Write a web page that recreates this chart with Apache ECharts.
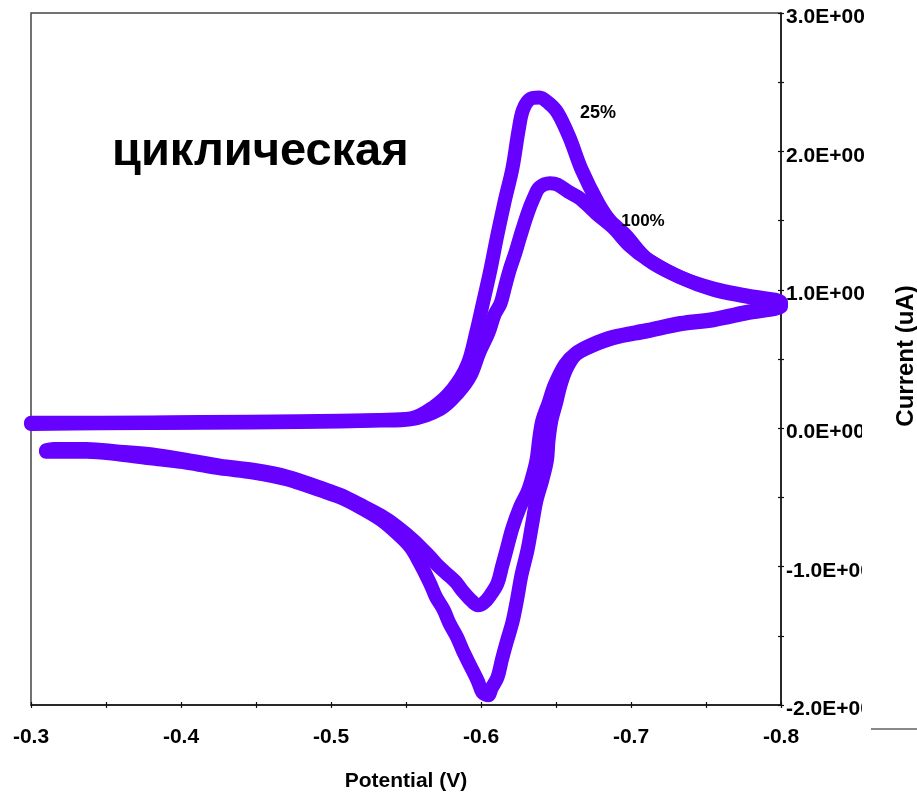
<!DOCTYPE html>
<html>
<head>
<meta charset="utf-8">
<style>
  html, body { margin: 0; padding: 0; background: #fff; }
  #chart { width: 917px; height: 792px; }
</style>
<script src="https://cdn.jsdelivr.net/npm/echarts@6/dist/echarts.min.js"></script>
</head>
<body>
<div id="chart"></div>
<script>
// Cyclic voltammograms: forward (cathodic-going) and reverse scans, potential in V, current in uA
const fwd25V = [-0.300,-0.346,-0.413,-0.479,-0.533,-0.553,-0.568,-0.581,-0.591,-0.597,-0.601,-0.606,-0.611,-0.616,-0.621,-0.625,-0.628,-0.633,-0.639,-0.645,-0.651,-0.659,-0.667,-0.678,-0.686,-0.696,-0.711,-0.733,-0.755,-0.777,-0.800];
const fwd25I = [0.04,0.04,0.045,0.05,0.06,0.07,0.15,0.28,0.46,0.70,0.89,1.13,1.40,1.65,1.88,2.15,2.30,2.38,2.39,2.35,2.28,2.10,1.87,1.63,1.50,1.40,1.22,1.09,1.00,0.95,0.90];
const rev25V = [-0.800,-0.777,-0.755,-0.733,-0.711,-0.688,-0.673,-0.663,-0.657,-0.653,-0.650,-0.647,-0.645,-0.644,-0.641,-0.637,-0.634,-0.631,-0.627,-0.624,-0.621,-0.617,-0.614,-0.611,-0.607,-0.605,-0.601,-0.598,-0.593,-0.588,-0.584,-0.579,-0.575,-0.570,-0.566,-0.559,-0.553,-0.544,-0.533,-0.519,-0.506,-0.493,-0.471,-0.448,-0.426,-0.404,-0.381,-0.359,-0.337,-0.315,-0.310];
const rev25I = [0.88,0.83,0.78,0.75,0.70,0.65,0.59,0.53,0.43,0.31,0.18,0.06,-0.09,-0.23,-0.37,-0.52,-0.70,-0.88,-1.06,-1.24,-1.40,-1.55,-1.67,-1.80,-1.88,-1.93,-1.91,-1.83,-1.72,-1.61,-1.51,-1.41,-1.31,-1.22,-1.12,-0.97,-0.86,-0.76,-0.66,-0.57,-0.50,-0.45,-0.37,-0.32,-0.29,-0.25,-0.22,-0.19,-0.17,-0.17,-0.17];

const fwd100V = [-0.300,-0.346,-0.413,-0.479,-0.533,-0.553,-0.573,-0.585,-0.593,-0.599,-0.605,-0.609,-0.613,-0.616,-0.619,-0.623,-0.626,-0.631,-0.635,-0.639,-0.646,-0.651,-0.658,-0.666,-0.677,-0.688,-0.699,-0.711,-0.733,-0.755,-0.777,-0.800];
const fwd100I = [0.03,0.035,0.04,0.045,0.055,0.065,0.14,0.26,0.38,0.55,0.69,0.82,0.90,1.02,1.14,1.27,1.38,1.55,1.66,1.74,1.77,1.76,1.71,1.66,1.55,1.45,1.32,1.22,1.09,1.01,0.96,0.91];
const rev100V = [-0.800,-0.777,-0.755,-0.733,-0.711,-0.688,-0.673,-0.663,-0.656,-0.649,-0.645,-0.641,-0.639,-0.637,-0.634,-0.631,-0.626,-0.621,-0.617,-0.614,-0.611,-0.606,-0.602,-0.598,-0.594,-0.588,-0.583,-0.577,-0.571,-0.566,-0.555,-0.544,-0.533,-0.519,-0.506,-0.493,-0.471,-0.448,-0.426,-0.404,-0.381,-0.359,-0.337,-0.315,-0.310];
const rev100I = [0.89,0.84,0.79,0.76,0.71,0.66,0.60,0.54,0.46,0.31,0.18,0.06,-0.06,-0.23,-0.36,-0.46,-0.57,-0.72,-0.88,-1.00,-1.12,-1.21,-1.26,-1.28,-1.25,-1.18,-1.11,-1.05,-0.99,-0.93,-0.81,-0.71,-0.63,-0.55,-0.48,-0.43,-0.35,-0.30,-0.27,-0.23,-0.19,-0.17,-0.15,-0.15,-0.16];

const curveLabels = ['25%', '100%'];
const titleText = 'циклическая';
const xName = 'Potential (V)';
const yName = 'Current (uA)';

const FONT = "'Liberation Sans', Arial, sans-serif";
const CURVE = '#6600ff';

function pairs(v, i) { return v.map((x, k) => [x, i[k]]); }
const loop25 = pairs(fwd25V, fwd25I).concat(pairs(rev25V, rev25I));
const loop100 = pairs(fwd100V, fwd100I).concat(pairs(rev100V, rev100I));

const chart = echarts.init(document.getElementById('chart'), null, { renderer: 'canvas' });

const xLabelFmt = v => (Math.abs(Math.round(v * 100)) % 10 === 0 ? v.toFixed(1) : '');
const yLabelFmt = v => (Math.abs(Math.round(v * 10)) % 10 === 0 ? v.toFixed(1) + 'E+00' : '');

const curveSeries = (data) => ({
  type: 'line',
  data: data,
  xAxisIndex: 0,
  yAxisIndex: 0,
  showSymbol: false,
  symbol: 'none',
  smooth: 0.35,
  clip: true,
  lineStyle: { color: CURVE, width: 14, cap: 'round', join: 'round' },
  animation: false
});

chart.setOption({
  animation: false,
  backgroundColor: '#ffffff',
  grid: {
    left: 31, right: 136, top: 13, bottom: 87,
    show: true, borderColor: '#444', borderWidth: 1.5, backgroundColor: 'transparent'
  },
  xAxis: [{
    type: 'value', inverse: true, min: -0.8, max: -0.3, interval: 0.05,
    position: 'bottom',
    axisLine: { show: true, onZero: false, lineStyle: { color: '#111', width: 1.5 } },
    axisTick: { show: true, inside: false, length: 3, lineStyle: { color: '#111', width: 1.2 } },
    splitLine: { show: false },
    axisLabel: { formatter: xLabelFmt, margin: 22, color: '#000', fontFamily: FONT, fontWeight: 'bold', fontSize: 21, showMinLabel: true, showMaxLabel: true }
  }, {
    type: 'value', inverse: true, min: -0.8, max: -0.3, interval: 0.05,
    position: 'bottom',
    axisLine: { show: false, onZero: false },
    axisTick: { show: true, inside: true, length: 3, lineStyle: { color: '#111', width: 1.2 } },
    splitLine: { show: false },
    axisLabel: { show: false }
  }],
  yAxis: [{
    type: 'value', min: -2, max: 3, interval: 0.5,
    position: 'right',
    axisLine: { show: true, onZero: false, lineStyle: { color: '#111', width: 1.5 } },
    axisTick: { show: true, inside: false, length: 3, lineStyle: { color: '#111', width: 1.2 } },
    splitLine: { show: false },
    axisLabel: { formatter: yLabelFmt, margin: 5, verticalAlign: 'top', lineHeight: 9, color: '#000', fontFamily: FONT, fontWeight: 'bold', fontSize: 21, showMinLabel: true, showMaxLabel: true }
  }, {
    type: 'value', min: -2, max: 3, interval: 0.5,
    position: 'right',
    axisLine: { show: false, onZero: false },
    axisTick: { show: true, inside: true, length: 3, lineStyle: { color: '#111', width: 1.2 } },
    splitLine: { show: false },
    axisLabel: { show: false }
  }],
  series: [curveSeries(loop25), curveSeries(loop100)],
  graphic: [
    { type: 'text', x: 112, y: 152, z: 10,
      style: { text: titleText, font: 'bold 47px ' + FONT, fill: '#000', textAlign: 'left', textVerticalAlign: 'middle' } },
    { type: 'text', x: 598, y: 113, z: 10,
      style: { text: curveLabels[0], font: 'bold 18px ' + FONT, fill: '#000', textAlign: 'center', textVerticalAlign: 'middle' } },
    { type: 'text', x: 643, y: 221, z: 10,
      style: { text: curveLabels[1], font: 'bold 17px ' + FONT, fill: '#000', textAlign: 'center', textVerticalAlign: 'middle' } },
    { type: 'text', x: 406, y: 781, z: 10,
      style: { text: xName, font: 'bold 21px ' + FONT, fill: '#000', textAlign: 'center', textVerticalAlign: 'middle' } },
    { type: 'rect', z: 20, shape: { x: 862, y: 415, width: 33, height: 377 }, style: { fill: '#fff' } },
    { type: 'text', x: 906, y: 356, z: 30, rotation: Math.PI / 2,
      style: { text: yName, font: 'bold 24px ' + FONT, fill: '#000', textAlign: 'center', textVerticalAlign: 'middle' } },
    { type: 'line', z: 30, shape: { x1: 871, y1: 729, x2: 917, y2: 729 }, style: { stroke: '#888', lineWidth: 2 } }
  ]
});
</script>
</body>
</html>
